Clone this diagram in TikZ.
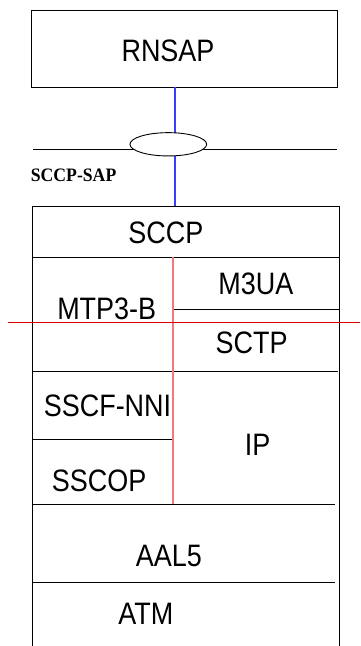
\documentclass[tikz,border=0pt]{standalone}
\usepackage{fontspec}
\usetikzlibrary{shapes.geometric}
\setmainfont{Liberation Sans}
\newfontfamily\sapfont{Liberation Serif}
\definecolor{sapblue}{RGB}{60,60,255}
\definecolor{darkred}{RGB}{224,0,0}
\definecolor{pinkred}{RGB}{245,120,120}
\newcommand{\lt}[1]{\scalebox{0.87}[1]{#1}}
\tikzset{
  lay/.style={font=\fontsize{31}{31}\selectfont, inner sep=0pt, anchor=center},
  ln/.style={line width=0.9pt, draw=black},
  boxst/.style={draw=black, line width=0.9pt, rectangle, inner sep=0pt},
  sapline/.style={line width=1.2pt, draw=sapblue},
  redh/.style={line width=0.9pt, draw=darkred},
  redv/.style={line width=1.8pt, draw=pinkred},
}
\begin{document}
\begin{tikzpicture}[x=1pt,y=-1pt]
\useasboundingbox (0,0) rectangle (360,646);
% RNSAP box
\node[boxst, minimum width=306pt, minimum height=77pt] (rnsap) at (184,48.5) {};
\node[lay] (rnsapt) at (168,50.5) {\lt{RNSAP}};
% SAP
\coordinate (stacktop) at (175,206.5);
\coordinate (rnsapbot) at (175,87);
\draw[sapline] (rnsapbot) -- (stacktop);
\coordinate (sapl) at (33,149);
\coordinate (sapr) at (336.7,149);
\draw[ln] (sapl) -- (sapr);
\node[draw=black, fill=white, line width=0.9pt, ellipse, minimum width=76.7pt, minimum height=23.3pt, inner sep=0pt] (sap) at (168.3,144.3) {};
\node[anchor=west, inner sep=0pt, font=\sapfont\bfseries\fontsize{19}{19}\selectfont] (saptext) at (30.7,175) {\scalebox{0.93}[1]{SCCP-SAP}};
% stack outline
\coordinate (tl) at (32.3,206.5);
\coordinate (tr) at (339,206.5);
\coordinate (bl) at (32.3,646);
\coordinate (br) at (339,646);
\draw[ln] (bl) -- (tl) -- (tr) -- (br);
% horizontal dividers
\draw[ln] (32.3,257.3) -- (339,257.3);
\draw[ln] (172.5,309.3) -- (339,309.3);
\draw[ln] (32.3,371.7) -- (337.7,371.7);
\draw[ln] (32.3,439.7) -- (172.5,439.7);
\draw[ln] (32.3,504.3) -- (335,504.3);
\draw[ln] (32.3,582.7) -- (335,582.7);
% red lines
\draw[redv] (172.7,257.3) -- (172.7,504.3);
\draw[redh] (8.3,322) -- (360,322);
% labels
\node[lay] (sccp) at (165.8,232.5) {\lt{SCCP}};
\node[lay] (m3ua) at (255.8,283.8) {\lt{M3UA}};
\node[lay] (mtp) at (106.7,308.7) {\lt{MTP3-B}};
\node[lay] (sctp) at (251.7,342.5) {\lt{SCTP}};
\node[lay] (sscf) at (107.5,405.5) {\lt{SSCF-NNI}};
\node[lay] (ip) at (257.5,444.7) {\lt{IP}};
\node[lay] (sscop) at (99.2,481.3) {\lt{SSCOP}};
\node[lay] (aal) at (168.8,556.3) {\lt{AAL5}};
\node[lay] (atm) at (145.8,613.8) {\lt{ATM}};
\end{tikzpicture}
\end{document}
